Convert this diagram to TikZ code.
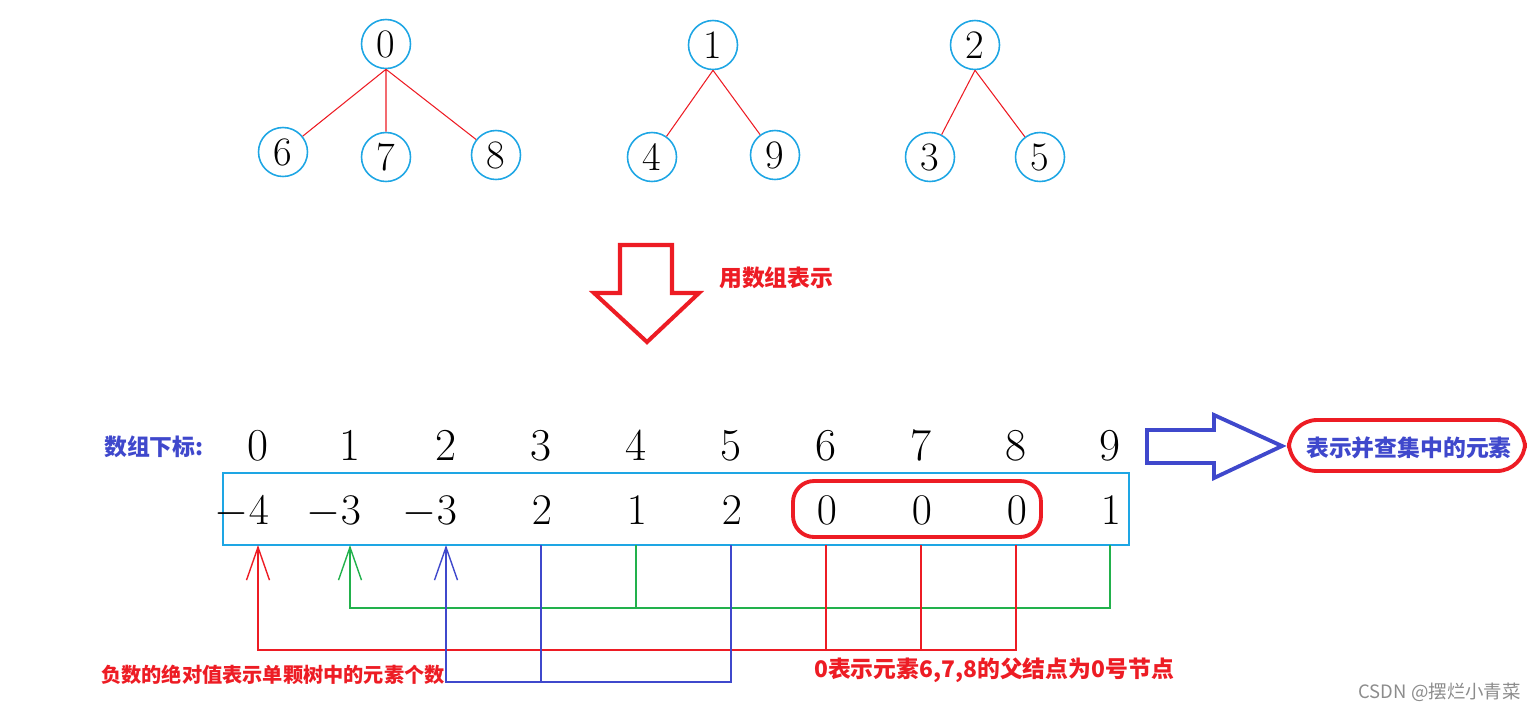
\documentclass[tikz,border=0pt]{standalone}
\usepackage{fontspec}
\newfontfamily\cjk{Noto Sans CJK SC}
\usetikzlibrary{arrows.meta}
\definecolor{skyline}{RGB}{30,166,228}
\definecolor{mred}{RGB}{237,28,36}
\definecolor{mblue}{RGB}{63,72,204}
\definecolor{mgreen}{RGB}{34,177,76}
\tikzset{
  tnode/.style={circle,draw=skyline,line width=0.9pt,inner sep=0pt,minimum size=0.98cm,
    font=\fontsize{23}{26}\selectfont},
  tedge/.style={mred,line width=0.6pt},
  idxnum/.style={anchor=base,font=\fontsize{26}{30}\selectfont},
  valnum/.style={anchor=base east,font=\fontsize{26}{30}\selectfont},
  note/.style={font=\cjk\bfseries\fontsize{13}{15}\selectfont},
  barb/.style={-{Straight Barb[length=0.66cm,width=0.46cm]}},
  redln/.style={mred,line width=0.8pt},
  grnln/.style={mgreen,line width=0.8pt},
  bluln/.style={mblue,line width=0.8pt}
}
\begin{document}
\begin{tikzpicture}[x=0.02cm,y=-0.02cm]
\useasboundingbox (0,0) rectangle (1540,711);
% trees
\node[tnode] (t0) at (386,44) {0};
\node[tnode] (t6) at (283,152) {6};
\node[tnode] (t7) at (386,157) {7};
\node[tnode] (t8) at (496,155) {8};
\node[tnode] (t1) at (713,45) {1};
\node[tnode] (t4) at (652,157) {4};
\node[tnode] (t9) at (775,155) {9};
\node[tnode] (t2) at (975,45) {2};
\node[tnode] (t3) at (930,157) {3};
\node[tnode] (t5) at (1040,157) {5};
\draw[tedge] (t0.south) -- (t6) (t0.south) -- (t7) (t0.south) -- (t8);
\draw[tedge] (t1.south) -- (t4) (t1.south) -- (t9);
\draw[tedge] (t2.south) -- (t3) (t2.south) -- (t5);
% down arrow
\draw[mred,line width=2.3pt] (620,245) -- (672,245) -- (672,293) -- (699,293) -- (647,342)
  -- (594,293) -- (620,293) -- cycle;
\node[note,text=mred,anchor=west] (usearr) at (713,278) {用数组表示};
% array
\node[note,text=mblue] (idxlbl) at (154,447) {数组下标:};
\draw[skyline,line width=1.1pt] (223,473) rectangle (1129,545);
\foreach \i/\x/\v in {0/258/-4,1/350/-3,2/446/-3,3/541/2,4/636/1,5/731/2,6/826/0,7/921/0,8/1016/0,9/1110/1}{
  \node[idxnum] (idx\i) at (\x,460) {\i};
  \node[valnum] (val\i) at (\x+17,524) {$\v$};
  \coordinate (b\i) at (\x,545);
}
\draw[mred,line width=2.2pt,rounded corners=12pt] (793,481) rectangle (1041,537);
% element arrow
\draw[mblue,line width=2.2pt] (1147,430) -- (1214,430) -- (1214,415) -- (1282,446)
  -- (1214,478) -- (1214,463) -- (1147,463) -- cycle;
\node[note,text=mblue] (elem) at (1409,448) {表示并查集中的元素};
\draw[mred,line width=2.2pt,rounded corners=16pt] (1289,420) rectangle (1525,471);
% connectors
\coordinate (gbar) at (0,608);
\coordinate (rbar) at (0,650);
\coordinate (bbar) at (0,682);
\draw[grnln,barb] (b9) |- (b1 |- gbar) -- (b1);
\draw[grnln] (b4) -- (b4 |- gbar);
\draw[redln,barb] (b8) |- (b0 |- rbar) -- (b0);
\draw[redln] (b6) -- (b6 |- rbar) (b7) -- (b7 |- rbar);
\draw[bluln,barb] (b5) |- (b2 |- bbar) -- (b2);
\draw[bluln] (b3) -- (b3 |- bbar);
\node[note,text=mred,font=\cjk\bfseries\fontsize{11.5}{14}\selectfont,anchor=west] (negnote) at (95,675) {负数的绝对值表示单颗树中的元素个数};
\node[note,text=mred,anchor=west] (zeronote) at (808,670) {0表示元素6,7,8的父结点为0号节点};
\node[font=\cjk\fontsize{10.5}{12}\selectfont,text=black!45,anchor=east] (mark) at (1527,692) {CSDN @摆烂小青菜};
\end{tikzpicture}
\end{document}
